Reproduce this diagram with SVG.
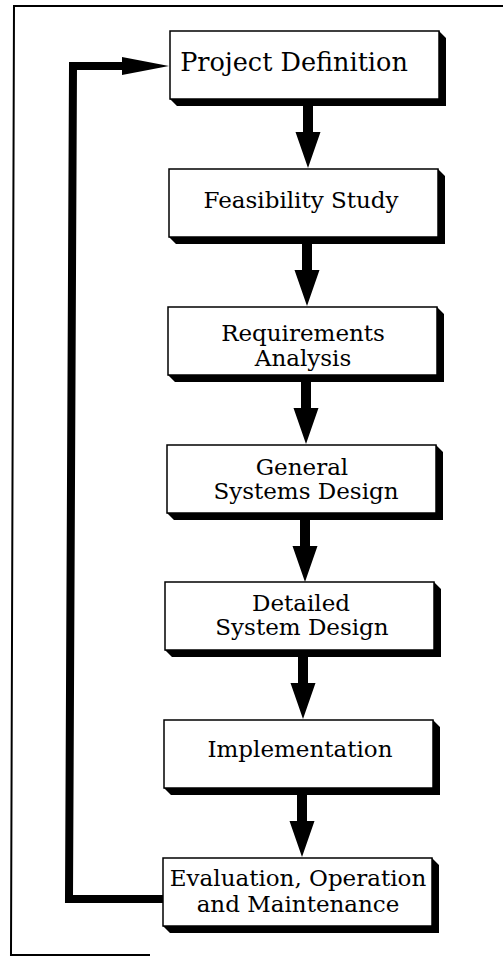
<svg xmlns="http://www.w3.org/2000/svg" width="503" height="958" viewBox="0 0 503 958">
  <style>
    .frame { fill: none; stroke: #000; stroke-width: 2; }
    .box { fill: #fff; stroke: #000; stroke-width: 1.5; }
    .shade { fill: #000; }
    .label { font-family: "DejaVu Serif", "Liberation Serif", serif; font-size: 23px; fill: #000; text-anchor: middle; }
    .big { font-size: 25.5px; }
    .loop { fill: none; stroke: #000; stroke-width: 8; stroke-linejoin: miter; }
    .arrow { fill: #000; }
  </style>
  <defs>
    <!-- thick downward block arrow, origin at top centre of the shaft -->
    <path id="down" d="M-5,0 H5 V27 H12.5 L0,63 L-12.5,27 H-5 Z"/>
  </defs>

  <rect width="503" height="958" fill="#fff"/>

  <!-- outer frame -->
  <polyline class="frame" points="503,6 14,6 11,955 150,955"/>

  <!-- connectors -->
  <g id="connectors">
    <use href="#down" class="arrow" x="308" y="105"/>
    <use href="#down" class="arrow" x="307" y="243"/>
    <use href="#down" class="arrow" x="306" y="381"/>
    <use href="#down" class="arrow" x="305" y="519"/>
    <use href="#down" class="arrow" x="303" y="656"/>
    <use href="#down" class="arrow" x="302" y="794"/>
    <!-- feedback loop back to the first stage -->
    <polyline class="loop" points="163,899 69,899 73,66 126,66"/>
    <polygon class="arrow" points="122,57 169,66 122,75"/>
  </g>

  <g id="project-definition">
    <polygon class="shade" points="439,31 446,38 446,106 177,106 170,99 439,99"/>
    <rect class="box" x="170" y="31" width="269" height="68"/>
    <text class="label big" x="294" y="71">Project Definition</text>
  </g>

  <g id="feasibility-study">
    <polygon class="shade" points="438,169 445,176 445,244 176,244 169,237 438,237"/>
    <rect class="box" x="169" y="169" width="269" height="68"/>
    <text class="label" x="301" y="208">Feasibility Study</text>
  </g>

  <g id="requirements-analysis">
    <polygon class="shade" points="437,307 444,314 444,382 175,382 168,375 437,375"/>
    <rect class="box" x="168" y="307" width="269" height="68"/>
    <text class="label" x="303" y="341">Requirements</text>
    <text class="label" x="303" y="366">Analysis</text>
  </g>

  <g id="general-systems-design">
    <polygon class="shade" points="436,445 443,452 443,520 174,520 167,513 436,513"/>
    <rect class="box" x="167" y="445" width="269" height="68"/>
    <text class="label" x="302" y="475">General</text>
    <text class="label" x="306" y="499">Systems Design</text>
  </g>

  <g id="detailed-system-design">
    <polygon class="shade" points="434,582 441,589 441,657 172,657 165,650 434,650"/>
    <rect class="box" x="165" y="582" width="269" height="68"/>
    <text class="label" x="301" y="611">Detailed</text>
    <text class="label" x="302" y="635">System Design</text>
  </g>

  <g id="implementation">
    <polygon class="shade" points="433,720 440,727 440,795 171,795 164,788 433,788"/>
    <rect class="box" x="164" y="720" width="269" height="68"/>
    <text class="label" x="300" y="757">Implementation</text>
  </g>

  <g id="evaluation-operation-maintenance">
    <polygon class="shade" points="432,858 439,865 439,933 170,933 163,926 432,926"/>
    <rect class="box" x="163" y="858" width="269" height="68"/>
    <text class="label" x="298" y="886">Evaluation, Operation</text>
    <text class="label" x="298" y="912">and Maintenance</text>
  </g>
</svg>
